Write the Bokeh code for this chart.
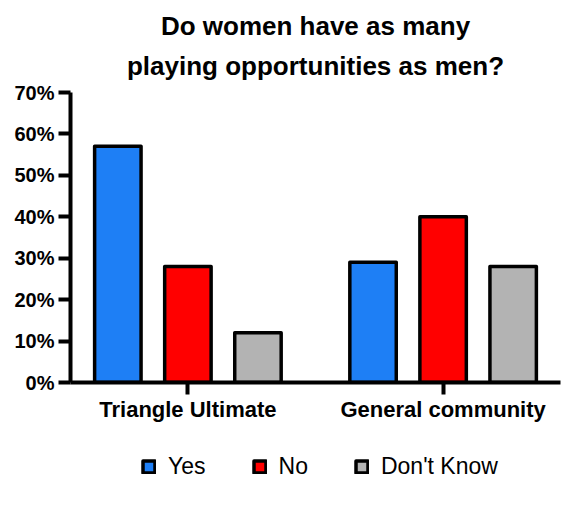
from bokeh.plotting import figure
from bokeh.layouts import column
from bokeh.models import (FactorRange, ColumnDataSource, NumeralTickFormatter, Legend,
                          LegendItem, FixedTicker, Title, Range1d)
from bokeh.transform import dodge
from bokeh.embed import file_html
from bokeh.resources import INLINE

groups = ["Triangle Ultimate", "General community"]
answers = ["Yes", "No", "Don't Know"]
yes = [0.57, 0.29]
no = [0.28, 0.40]
dont_know = [0.12, 0.28]
colors = ["#1E7FF5", "#FF0000", "#B3B3B3"]
y_ticks = [0.0, 0.1, 0.2, 0.3, 0.4, 0.5, 0.6, 0.7]
title_lines = ["Do women have as many", "playing opportunities as men?"]

FONT = "Liberation Sans"

src = ColumnDataSource(dict(group=groups, yes=yes, no=no, dk=dont_know))

x_range = FactorRange(*groups, range_padding=-0.04, range_padding_units="absolute")
p = figure(x_range=x_range, y_range=(0, 0.7), width=577, height=440,
           output_backend="svg", toolbar_location=None,
           min_border_left=70, min_border_right=17, min_border_top=92,
           min_border_bottom=58)

# second line (closest to the plot) first, then the first line above it
p.add_layout(Title(text=title_lines[1], align="center", text_font=FONT, text_font_size="26px",
                   text_font_style="bold", text_color="black", standoff=20,
                   vertical_align="top"), "above")
p.add_layout(Title(text=title_lines[0], align="center", text_font=FONT, text_font_size="26px",
                   text_font_style="bold", text_color="black", standoff=0,
                   vertical_align="bottom"), "above")

offsets = [-0.2745, 0.0, 0.2745]
fields = ["yes", "no", "dk"]
for fld, off, col in zip(fields, offsets, colors):
    p.vbar(x=dodge("group", off, range=p.x_range), top=fld, bottom=0, width=0.182,
           source=src, fill_color=col, line_color="black", line_width=3.5,
           line_join="round")

p.yaxis.ticker = FixedTicker(ticks=y_ticks)
p.yaxis.formatter = NumeralTickFormatter(format="0%")
for ax in (p.xaxis, p.yaxis):
    ax.axis_line_width = 4
    ax.axis_line_color = "black"
    ax.major_tick_line_width = 4
    ax.major_tick_line_color = "black"
    ax.major_tick_out = 12
    ax.major_tick_in = 0
    ax.minor_tick_line_color = None
    ax.major_label_text_font = FONT
    ax.major_label_text_font_style = "bold"
    ax.major_label_text_color = "black"
p.yaxis.major_label_text_font_size = "20px"
p.yaxis.major_label_standoff = 4
p.xaxis.major_label_text_font_size = "22px"
p.xaxis.major_label_standoff = 2

p.xgrid.grid_line_color = None
p.ygrid.grid_line_color = None
p.outline_line_color = None

# legend panel below the chart: its bars map to no factor of its own range,
# so only the legend entries are drawn
pl = figure(width=577, height=84, output_backend="svg", toolbar_location=None,
            min_border=0, x_range=FactorRange("legend"), y_range=Range1d(10, 11))
items = []
for a, fld, off, col in zip(answers, fields, offsets, colors):
    r = pl.vbar(x=dodge("group", off, range=pl.x_range), top=fld, bottom=0, width=0.182,
                source=src, fill_color=col, line_color="black",
                line_width=3.5, line_join="round")
    items.append(LegendItem(label=a, renderers=[r]))
legend = Legend(items=items, orientation="horizontal", location=(71, 44))
legend.label_text_font = FONT
legend.label_text_font_size = "23px"
legend.label_text_color = "black"
legend.glyph_width = 15
legend.glyph_height = 15
legend.label_standoff = 12
legend.spacing = 46
legend.padding = 10
legend.margin = 0
legend.border_line_color = None
legend.background_fill_alpha = 0
pl.add_layout(legend, "center")
pl.axis.visible = False
pl.grid.grid_line_color = None
pl.outline_line_color = None

layout = column(p, pl, spacing=0)
open("out.html", "w").write(file_html(layout, INLINE))
